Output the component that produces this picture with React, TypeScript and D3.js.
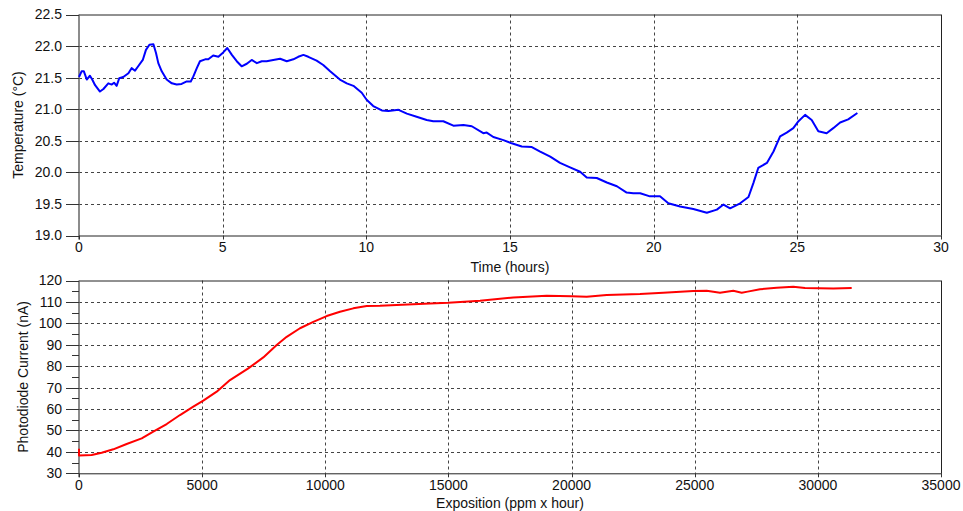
import React from "react";
import * as d3 from "d3";

const timeHours = [0, 0.09, 0.17, 0.27, 0.38, 0.46, 0.56, 0.73, 0.85, 1.02, 1.14, 1.22, 1.31, 1.4, 1.54, 1.72, 1.83, 1.95, 2.06, 2.22, 2.33, 2.45, 2.59, 2.68, 2.76, 2.88, 3.05, 3.23, 3.4, 3.57, 3.75, 3.89, 3.98, 4.1, 4.21, 4.39, 4.5, 4.67, 4.85, 5.02, 5.16, 5.32, 5.49, 5.66, 5.84, 6.01, 6.19, 6.36, 6.53, 6.76, 7.0, 7.23, 7.46, 7.63, 7.81, 7.98, 8.27, 8.5, 8.74, 9.08, 9.32, 9.55, 9.84, 10.01, 10.24, 10.54, 10.77, 11.12, 11.41, 11.75, 12.1, 12.33, 12.68, 13.03, 13.38, 13.67, 14.07, 14.19, 14.42, 14.77, 15.06, 15.41, 15.76, 16.05, 16.4, 16.74, 17.09, 17.44, 17.67, 18.02, 18.37, 18.72, 19.06, 19.29, 19.53, 19.87, 20.22, 20.51, 20.92, 21.38, 21.85, 22.2, 22.43, 22.66, 23.01, 23.3, 23.47, 23.64, 23.94, 24.17, 24.4, 24.63, 24.86, 25.04, 25.27, 25.5, 25.73, 26.02, 26.25, 26.49, 26.77, 27.09];
const temperature = [21.51, 21.6, 21.6, 21.47, 21.53, 21.47, 21.38, 21.28, 21.32, 21.41, 21.39, 21.42, 21.37, 21.49, 21.51, 21.57, 21.65, 21.61, 21.68, 21.78, 21.94, 22.02, 22.03, 21.89, 21.73, 21.6, 21.47, 21.41, 21.39, 21.4, 21.44, 21.44, 21.52, 21.65, 21.76, 21.79, 21.79, 21.85, 21.83, 21.9, 21.97, 21.86, 21.76, 21.68, 21.72, 21.78, 21.73, 21.76, 21.76, 21.78, 21.8, 21.76, 21.79, 21.83, 21.86, 21.83, 21.77, 21.7, 21.6, 21.47, 21.41, 21.37, 21.26, 21.15, 21.05, 20.98, 20.97, 20.99, 20.93, 20.88, 20.83, 20.81, 20.81, 20.74, 20.75, 20.73, 20.62, 20.63, 20.56, 20.51, 20.46, 20.41, 20.4, 20.33, 20.25, 20.15, 20.08, 20.01, 19.92, 19.91, 19.84, 19.78, 19.68, 19.67, 19.67, 19.62, 19.62, 19.51, 19.46, 19.42, 19.36, 19.41, 19.49, 19.43, 19.51, 19.61, 19.83, 20.07, 20.15, 20.33, 20.57, 20.63, 20.7, 20.81, 20.91, 20.83, 20.65, 20.62, 20.7, 20.79, 20.84, 20.94];

const exposition = [0, 0, 513, 920, 1393, 1935, 2546, 3016, 3561, 4101, 4641, 5047, 5591, 6131, 6874, 7483, 8027, 8433, 8973, 9514, 10057, 10597, 11137, 11681, 12222, 14251, 14996, 16282, 17634, 18990, 20005, 20614, 21426, 22778, 23724, 24942, 25485, 26026, 26566, 26908, 27150, 27650, 28328, 29002, 29478, 30627, 31374];
const current = [41.5, 38.3, 38.5, 39.6, 41.2, 43.7, 46.3, 49.4, 53.0, 57.2, 61.1, 63.9, 68.1, 73.5, 79.0, 84.1, 89.9, 93.7, 97.7, 100.7, 103.4, 105.4, 107.0, 108.1, 108.2, 109.3, 109.6, 110.5, 112.1, 112.9, 112.7, 112.4, 113.2, 113.7, 114.3, 115.1, 115.2, 114.3, 115.2, 114.3, 114.8, 115.9, 116.6, 117.1, 116.5, 116.3, 116.5];

const topXTicks = [0, 5, 10, 15, 20, 25, 30];
const topYTicks = [19.0, 19.5, 20.0, 20.5, 21.0, 21.5, 22.0, 22.5];
const botXTicks = [0, 5000, 10000, 15000, 20000, 25000, 30000, 35000];
const botYTicks = [30, 40, 50, 60, 70, 80, 90, 100, 110, 120];
const botYMinor = [35, 45, 55, 65, 75, 85, 95, 105, 115];

const FONT = "Liberation Sans, Arial, sans-serif";

type PanelProps = {
  x: d3.ScaleLinear<number, number>;
  y: d3.ScaleLinear<number, number>;
  xTicks: number[];
  yTicks: number[];
  yMinor?: number[];
  yFmt: (v: number) => string;
  xs: number[];
  ys: number[];
  color: string;
  xTitle: string;
  yTitle: string;
  xTitleY: number;
  yTitleX: number;
};

function Panel(p: PanelProps) {
  const [x0, x1] = p.x.range();
  const [yb, yt] = p.y.range();
  const pts = p.xs.map((v, i) => [v, p.ys[i]] as [number, number]);
  const line = d3.line<[number, number]>().x((d) => p.x(d[0])).y((d) => p.y(d[1]));
  const xd = p.x.domain();
  const yd = p.y.domain();
  return (
    <g>
      {p.yTicks.filter((v) => v !== yd[0] && v !== yd[1]).map((v) => (
        <line key={"gy" + v} x1={x0} x2={x1} y1={Math.round(p.y(v)) + 0.5} y2={Math.round(p.y(v)) + 0.5} stroke="#444" strokeDasharray="3,3" />
      ))}
      {p.xTicks.filter((v) => v !== xd[0] && v !== xd[1]).map((v) => (
        <line key={"gx" + v} x1={Math.round(p.x(v)) + 0.5} x2={Math.round(p.x(v)) + 0.5} y1={yt} y2={yb} stroke="#444" strokeDasharray="3,3" />
      ))}
      <line x1={x0} x2={x1} y1={yt + 0.5} y2={yt + 0.5} stroke="#222" />
      <line x1={x1 + 0.5} x2={x1 + 0.5} y1={yt} y2={yb} stroke="#222" />
      <line x1={x0} x2={x1 + 1} y1={yb + 0.5} y2={yb + 0.5} stroke="#222" />
      <line x1={x0} x2={x0} y1={yt} y2={yb + 4} stroke="#666" strokeWidth={1.5} />
      {p.yTicks.map((v) => (
        <g key={"ty" + v}>
          <line x1={x0 - 13} x2={x0} y1={Math.round(p.y(v)) + 0.5} y2={Math.round(p.y(v)) + 0.5} stroke="#333" />
          <text x={x0 - 17} y={p.y(v)} dy="0.35em" textAnchor="end" fontSize={14} fontFamily={FONT} fill="#111">{p.yFmt(v)}</text>
        </g>
      ))}
      {(p.yMinor || []).map((v) => (
        <line key={"my" + v} x1={x0 - 7} x2={x0} y1={Math.round(p.y(v)) + 0.5} y2={Math.round(p.y(v)) + 0.5} stroke="#333" />
      ))}
      {p.xTicks.map((v) => (
        <g key={"tx" + v}>
          <line x1={Math.round(p.x(v)) + 0.5} x2={Math.round(p.x(v)) + 0.5} y1={yb} y2={yb + 4} stroke="#333" />
          <text x={p.x(v)} y={yb + 12} dy="0.35em" textAnchor="middle" fontSize={14} fontFamily={FONT} fill="#111">{String(v)}</text>
        </g>
      ))}
      <path d={line(pts) || ""} fill="none" stroke={p.color} strokeWidth={2} strokeLinejoin="round" />
      <text x={(x0 + x1) / 2} y={p.xTitleY} dy="0.35em" textAnchor="middle" fontSize={14} fontFamily={FONT} fill="#111">{p.xTitle}</text>
      <text transform={`translate(${p.yTitleX},${(yt + yb) / 2}) rotate(-90)`} dy="0.35em" textAnchor="middle" fontSize={14} fontFamily={FONT} fill="#111">{p.yTitle}</text>
    </g>
  );
}

export default function App() {
  const xTop = d3.scaleLinear().domain([0, 30]).range([79, 941]);
  const yTop = d3.scaleLinear().domain([19, 22.5]).range([235.5, 14.5]);
  const xBot = d3.scaleLinear().domain([0, 35000]).range([79, 941]);
  const yBot = d3.scaleLinear().domain([30, 120]).range([473.3, 280.5]);
  return (
    <svg width={963} height={511} style={{ position: "absolute", left: 0, top: 0, background: "#fff" }}>
      <rect width={963} height={511} fill="#fff" />
      <Panel x={xTop} y={yTop} xTicks={topXTicks} yTicks={topYTicks} yFmt={(v) => v.toFixed(1)} xs={timeHours} ys={temperature} color="#0000ff" xTitle="Time (hours)" yTitle="Temperature (°C)" xTitleY={267} yTitleX={18} />
      <Panel x={xBot} y={yBot} xTicks={botXTicks} yTicks={botYTicks} yMinor={botYMinor} yFmt={(v) => String(v)} xs={exposition} ys={current} color="#ff0000" xTitle="Exposition (ppm x hour)" yTitle="Photodiode Current (nA)" xTitleY={503} yTitleX={23} />
    </svg>
  );
}
